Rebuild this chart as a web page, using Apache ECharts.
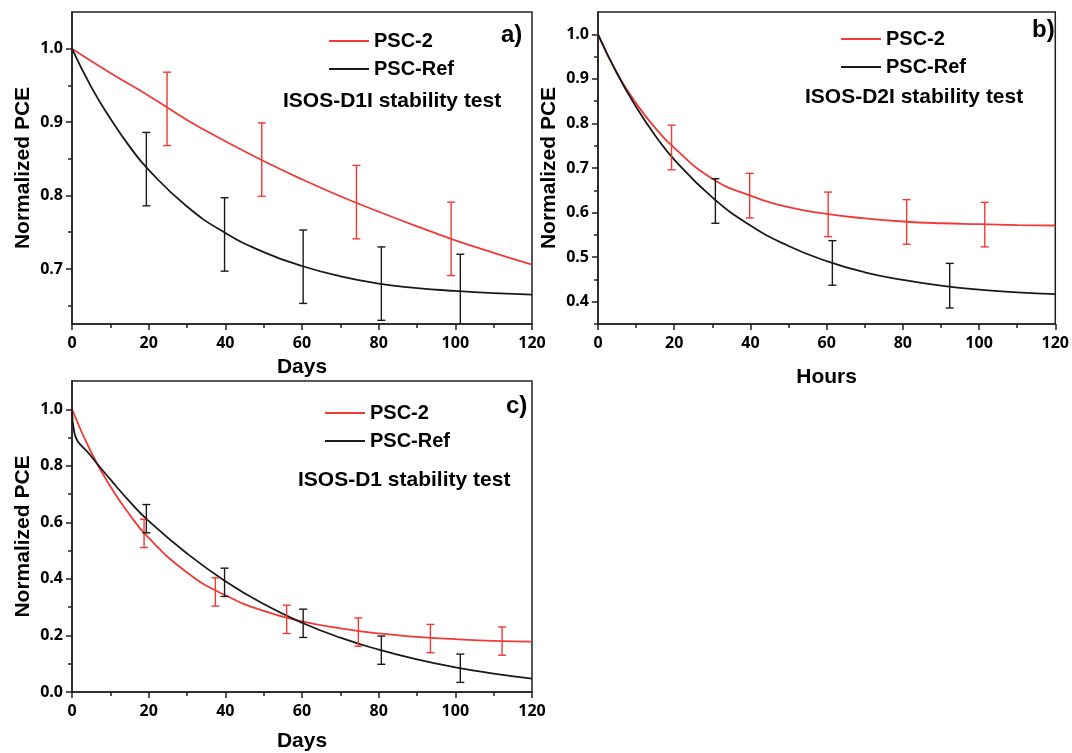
<!DOCTYPE html>
<html>
<head>
<meta charset="utf-8">
<script src="https://cdn.jsdelivr.net/npm/echarts@6/dist/echarts.min.js"></script>
<style>
html,body{margin:0;padding:0;background:#fff;}
#chart{width:1072px;height:753px;}
</style>
</head>
<body>
<div id="chart"></div>
<script>
// ---------- data ----------
const seriesNames = ['PSC-2', 'PSC-Ref'];
const panelLabels = ['a)', 'b)', 'c)'];
const testLabels = ['ISOS-D1I stability test', 'ISOS-D2I stability test', 'ISOS-D1 stability test'];
const xTitles = ['Days', 'Hours', 'Days'];
const yTitle = 'Normalized PCE';

// fitted curves (x, y)
const curveX_std = [0, 5, 10, 15, 20, 30, 40, 50, 60, 70, 80, 90, 100, 110, 120];
const curveXa_red = [0, 10, 20, 30, 40, 50, 60, 70, 80, 90, 100, 110, 120];
const curveA_red = [1.0, 0.967, 0.936, 0.903, 0.874, 0.847, 0.822, 0.799, 0.778, 0.758, 0.739, 0.722, 0.706];
const curveA_ref = [1.0, 0.948, 0.905, 0.867, 0.835, 0.785, 0.749, 0.723, 0.704, 0.690, 0.680, 0.674, 0.670, 0.667, 0.665];
const curveB_red = [1.0, 0.913, 0.845, 0.790, 0.745, 0.676, 0.638, 0.612, 0.597, 0.587, 0.580, 0.576, 0.574, 0.572, 0.571];
const curveB_ref = [1.0, 0.912, 0.837, 0.773, 0.719, 0.634, 0.571, 0.525, 0.491, 0.466, 0.449, 0.436, 0.427, 0.421, 0.417];
const curveC_red = [1.0, 0.848, 0.727, 0.628, 0.545, 0.423, 0.342, 0.287, 0.250, 0.225, 0.207, 0.195, 0.187, 0.181, 0.178];
const curveXc_ref = [0, 0.6, 5, 10, 15, 20, 30, 40, 50, 60, 70, 80, 90, 100, 110, 120];
const curveC_ref = [1.0, 0.918, 0.834, 0.752, 0.674, 0.605, 0.490, 0.392, 0.311, 0.245, 0.192, 0.150, 0.115, 0.087, 0.065, 0.047];

// measured points with error bars
const ptsA_redX = [24.8, 49.5, 74.2, 98.9];
const ptsA_redY = [0.918, 0.849, 0.791, 0.741];
const ptsA_refX = [19.4, 39.8, 60.3, 80.7, 101.3];
const ptsA_refY = [0.836, 0.747, 0.703, 0.680, 0.670];
const ptsB_redX = [19.3, 39.8, 60.4, 81.0, 101.5];
const ptsB_redY = [0.746, 0.638, 0.596, 0.579, 0.573];
const ptsB_refX = [30.8, 61.5, 92.3];
const ptsB_refY = [0.626, 0.487, 0.436];
const ptsC_redX = [18.8, 37.4, 56.0, 74.7, 93.5, 112.2];
const ptsC_redY = [0.561, 0.354, 0.257, 0.212, 0.189, 0.180];
const ptsC_refX = [19.4, 39.8, 60.3, 80.7, 101.3];
const ptsC_refY = [0.613, 0.388, 0.243, 0.148, 0.084];
const errBar = 0.05;

// axes
const xMin = 0, xMax = 120, xInterval = 20;
const yRange = [[0.625, 1.05], [0.35, 1.05], [0, 1.1]];
const yMajor = [[0.7, 0.8, 0.9, 1.0], [0.4, 0.5, 0.6, 0.7, 0.8, 0.9, 1.0], [0, 0.2, 0.4, 0.6, 0.8, 1.0]];
const yMinor = [[0.65, 0.75, 0.85, 0.95], [0.35, 0.45, 0.55, 0.65, 0.75, 0.85, 0.95], [0.1, 0.3, 0.5, 0.7, 0.9]];

// ---------- build ----------
const RED = '#f03a36', BLACK = '#1a1a1a', AXIS = '#222';
const grids = [
  {left: 72, top: 12, width: 460, height: 312},
  {left: 598, top: 12, width: 460, height: 312},
  {left: 72, top: 381, width: 460, height: 312}
];
const xNameGap = [33, 43, 39];
const tickFont = {color: '#000', fontFamily: 'Open Sans', fontWeight: 'bold', fontSize: 16};
const titleFont = {color: '#000', fontFamily: 'Liberation Sans', fontWeight: 'bold', fontSize: 21};

const option = {
  backgroundColor: '#fff',
  animation: false,
  grid: grids.map(g => Object.assign({show: true, borderColor: AXIS, borderWidth: 1.5, backgroundColor: 'transparent'}, g)),
  xAxis: grids.map((g, i) => ({
    gridIndex: i, type: 'value', min: xMin, max: xMax, interval: xInterval,
    name: xTitles[i], nameLocation: 'middle', nameGap: xNameGap[i], nameTextStyle: titleFont,
    axisLine: {show: true, lineStyle: {color: AXIS, width: 1.5}},
    axisTick: {show: true, inside: false, length: 6, lineStyle: {color: AXIS, width: 1.5}},
    minorTick: {show: true, splitNumber: 2, length: 4, lineStyle: {color: AXIS, width: 1.5}},
    axisLabel: Object.assign({margin: 11}, tickFont),
    splitLine: {show: false}, minorSplitLine: {show: false}
  })),
  yAxis: [],
  legend: [
    {left: 324, top: 26},
    {left: 836, top: 24},
    {left: 320, top: 398}
  ].map(l => Object.assign({
    orient: 'vertical', data: seriesNames, icon: 'rect', itemWidth: 40, itemHeight: 2, itemGap: 8,
    textStyle: {color: '#000', fontFamily: 'Liberation Sans', fontWeight: 'bold', fontSize: 20, lineHeight: 20},
    selectedMode: false
  }, l)),
  graphic: [],
  series: []
};

grids.forEach((g, i) => {
  option.yAxis.push({
    gridIndex: i, type: 'value', position: 'left', min: yRange[i][0], max: yRange[i][1],
    name: yTitle, nameLocation: 'middle', nameGap: 38, nameTextStyle: titleFont,
    axisLine: {show: true, lineStyle: {color: AXIS, width: 1.5}},
    axisTick: {show: true, inside: false, length: 6, customValues: yMajor[i], lineStyle: {color: AXIS, width: 1.5}},
    axisLabel: Object.assign({margin: 9, customValues: yMajor[i], formatter: v => v.toFixed(1)}, tickFont),
    splitLine: {show: false}
  });
});
grids.forEach((g, i) => {
  option.yAxis.push({
    gridIndex: i, type: 'value', position: 'left', offset: 0, min: yRange[i][0], max: yRange[i][1],
    axisLine: {show: false},
    axisTick: {show: true, inside: false, length: 4, customValues: yMinor[i], lineStyle: {color: AXIS, width: 1.5}},
    axisLabel: {show: false},
    splitLine: {show: false}
  });
});

function zip(xs, ys) { return xs.map((x, k) => [x, ys[k]]); }
function lineSeries(name, color, xi, xs, ys) {
  return {
    name, type: 'line', xAxisIndex: xi, yAxisIndex: xi, data: zip(xs, ys),
    showSymbol: false, symbol: 'none', smooth: 0.5,
    lineStyle: {color, width: 1.8}, itemStyle: {color}, z: 3
  };
}
function errSeries(name, color, xi, xs, ys) {
  return {
    name, type: 'custom', xAxisIndex: xi, yAxisIndex: xi, clip: true, z: 4,
    data: xs.map((x, k) => [x, ys[k] - errBar, ys[k] + errBar]),
    itemStyle: {color},
    renderItem: function (params, api) {
      const x = api.value(0);
      const lo = api.coord([x, api.value(1)]);
      const hi = api.coord([x, api.value(2)]);
      const w = 4;
      const st = {stroke: color, lineWidth: 1.4};
      return {type: 'group', children: [
        {type: 'line', shape: {x1: lo[0], y1: lo[1], x2: hi[0], y2: hi[1]}, style: st},
        {type: 'line', shape: {x1: hi[0] - w, y1: hi[1], x2: hi[0] + w, y2: hi[1]}, style: st},
        {type: 'line', shape: {x1: lo[0] - w, y1: lo[1], x2: lo[0] + w, y2: lo[1]}, style: st}
      ]};
    }
  };
}

option.series.push(
  lineSeries('PSC-2', RED, 0, curveXa_red, curveA_red),
  lineSeries('PSC-Ref', BLACK, 0, curveX_std, curveA_ref),
  errSeries('PSC-2', RED, 0, ptsA_redX, ptsA_redY),
  errSeries('PSC-Ref', BLACK, 0, ptsA_refX, ptsA_refY),
  lineSeries('PSC-2', RED, 1, curveX_std, curveB_red),
  lineSeries('PSC-Ref', BLACK, 1, curveX_std, curveB_ref),
  errSeries('PSC-2', RED, 1, ptsB_redX, ptsB_redY),
  errSeries('PSC-Ref', BLACK, 1, ptsB_refX, ptsB_refY),
  lineSeries('PSC-2', RED, 2, curveX_std, curveC_red),
  lineSeries('PSC-Ref', BLACK, 2, curveXc_ref, curveC_ref),
  errSeries('PSC-2', RED, 2, ptsC_redX, ptsC_redY),
  errSeries('PSC-Ref', BLACK, 2, ptsC_refX, ptsC_refY)
);

// annotations
const testPos = [[283, 103], [805, 99], [298, 482]];
const panelPos = [[501, 37], [1032, 32], [506, 408]];
testLabels.forEach((t, i) => {
  option.graphic.push({type: 'text', left: testPos[i][0], top: testPos[i][1] - 12,
    style: {text: t, fill: '#000', font: 'bold 21px "Liberation Sans"'}});
  option.graphic.push({type: 'text', left: panelPos[i][0], top: panelPos[i][1] - 14,
    style: {text: panelLabels[i], fill: '#000', font: 'bold 24px "Liberation Sans"'}});
});

const chart = echarts.init(document.getElementById('chart'), null, {renderer: 'canvas'});
chart.setOption(option);
</script>
</body>
</html>
